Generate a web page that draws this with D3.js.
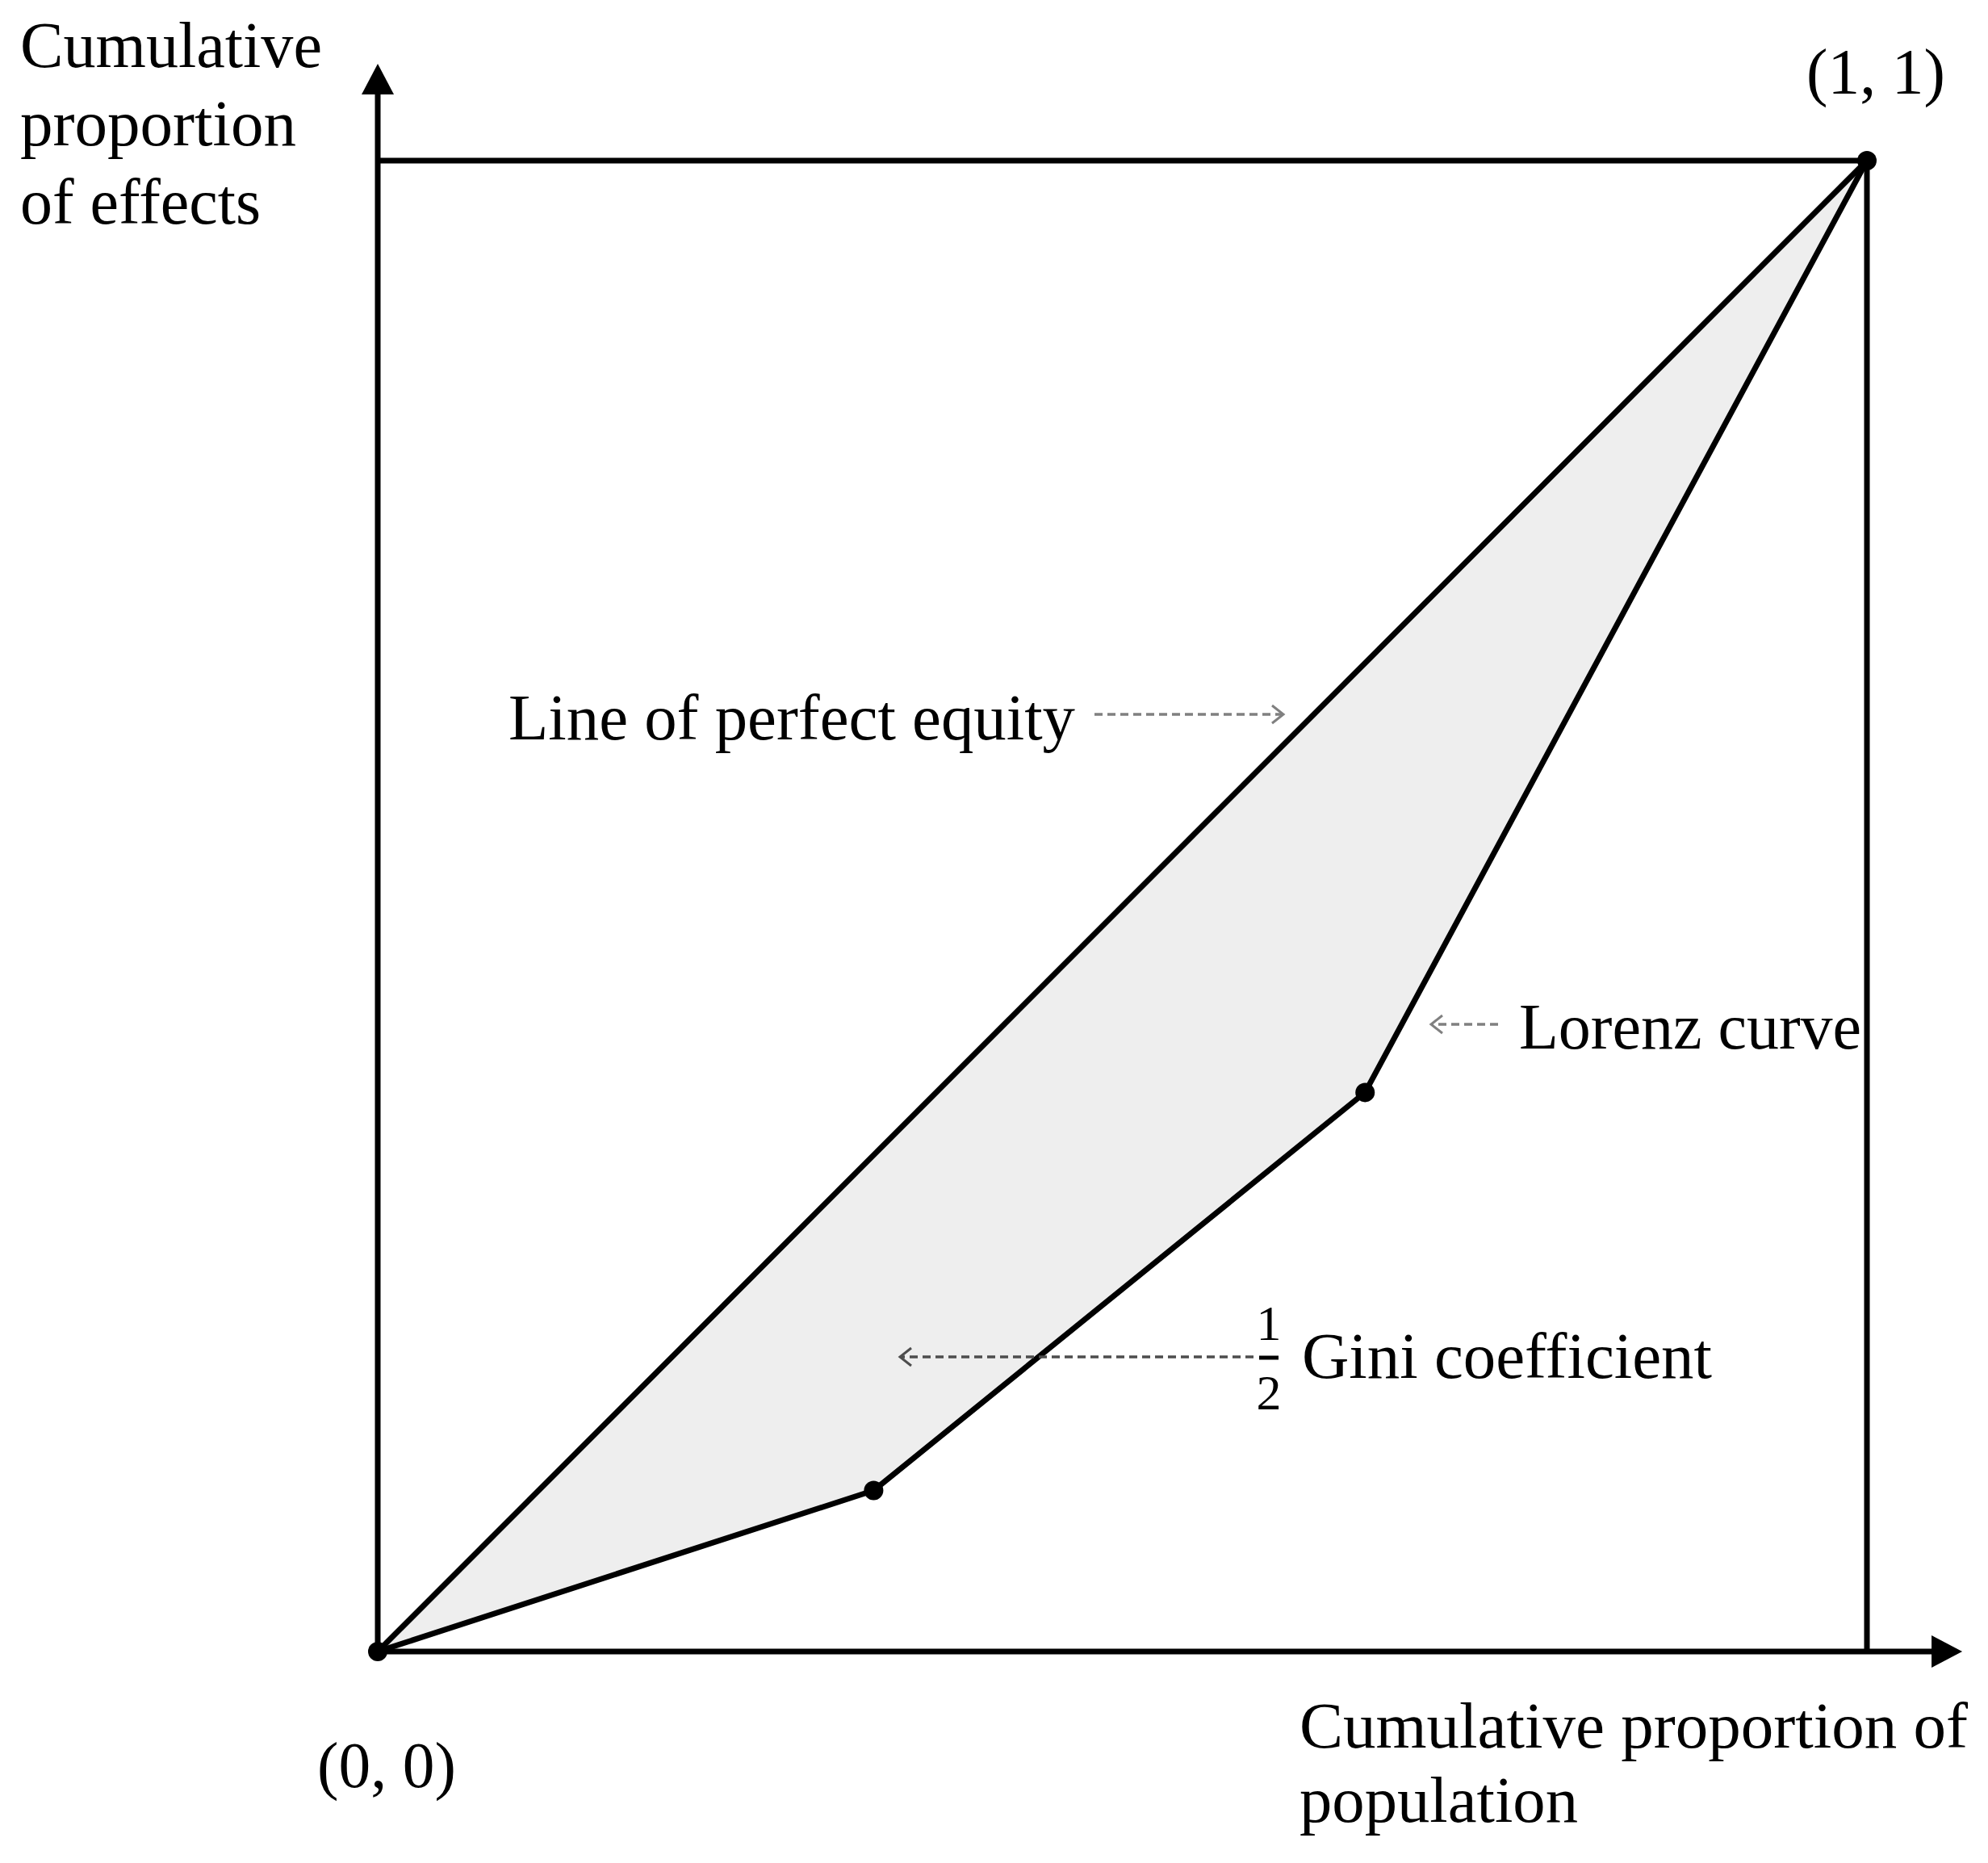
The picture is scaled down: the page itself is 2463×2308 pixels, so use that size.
<!DOCTYPE html>
<html>
<head>
<meta charset="utf-8">
<script src="https://cdn.jsdelivr.net/npm/d3@7"></script>
<style>
html,body{margin:0;padding:0;background:#fff;}
svg{display:block;}
text{font-family:"Liberation Serif","Times New Roman",serif;fill:#000;}
</style>
</head>
<body>
<script>
// ---- data ----
const lorenzX = [0, 0.333, 0.663, 1];
const lorenzY = [0, 0.108, 0.375, 1];
const equityX = [0, 1];
const equityY = [0, 1];
const yLabelLines = ["Cumulative", "proportion", "of effects"];
const xLabelLines = ["Cumulative proportion of", "population"];
const cornerLabels = ["(0, 0)", "(1, 1)"];
const annoEquity = "Line of perfect equity";
const annoLorenz = "Lorenz curve";
const annoGini = "Gini coefficient";

const W = 2463, H = 2308;
const svg = d3.select("body").append("svg").attr("width", W).attr("height", H);

const x = d3.scaleLinear().domain([0, 1]).range([468, 2313]);
const y = d3.scaleLinear().domain([0, 1]).range([2046, 199]);

const lorenz = lorenzX.map((v, i) => [v, lorenzY[i]]);
const equity = equityX.map((v, i) => [v, equityY[i]]);
const line = d3.line().x(d => x(d[0])).y(d => y(d[1]));

// shaded area between equity line and Lorenz curve
const areaPts = equity.slice().concat(lorenz.slice().reverse().slice(1, -1));
svg.append("path")
  .attr("d", line(areaPts) + "Z")
  .attr("fill", "#eeeeee").attr("stroke", "none");

const SW = 7;
// axes
const xMaxAxis = 1.064, yMaxAxis = 1.065;
svg.append("line").attr("x1", x(0)).attr("y1", y(0)).attr("x2", x(xMaxAxis) - 30).attr("y2", y(0))
  .attr("stroke", "#000").attr("stroke-width", SW);
svg.append("line").attr("x1", x(0)).attr("y1", y(0)).attr("x2", x(0)).attr("y2", y(yMaxAxis) + 30)
  .attr("stroke", "#000").attr("stroke-width", SW);
// arrowheads
const ah = 38, aw = 20;
svg.append("path")
  .attr("d", `M${x(xMaxAxis)},${y(0)} L${x(xMaxAxis) - ah},${y(0) - aw} L${x(xMaxAxis) - ah},${y(0) + aw} Z`)
  .attr("fill", "#000");
svg.append("path")
  .attr("d", `M${x(0)},${y(yMaxAxis)} L${x(0) - aw},${y(yMaxAxis) + ah} L${x(0) + aw},${y(yMaxAxis) + ah} Z`)
  .attr("fill", "#000");
// box top and right
svg.append("path").attr("d", line([[0, 1], [1, 1], [1, 0]]))
  .attr("fill", "none").attr("stroke", "#000").attr("stroke-width", SW);

// equity line and Lorenz curve
svg.append("path").attr("d", line(equity)).attr("fill", "none").attr("stroke", "#000").attr("stroke-width", SW);
svg.append("path").attr("d", line(lorenz)).attr("fill", "none").attr("stroke", "#000")
  .attr("stroke-width", SW).attr("stroke-linejoin", "round");

// dots
svg.selectAll("circle.pt").data(lorenz).enter().append("circle")
  .attr("class", "pt").attr("cx", d => x(d[0])).attr("cy", d => y(d[1])).attr("r", 12).attr("fill", "#000");

// text helper
function txt(s, px, py, size, len) {
  const t = svg.append("text").attr("x", px).attr("y", py).attr("font-size", size).text(s);
  if (len) t.attr("textLength", len).attr("lengthAdjust", "spacingAndGlyphs");
  return t;
}

// y label
const yLens = [374, 342, 298];
yLabelLines.forEach((s, i) => txt(s, 25, 83 + i * 97, 80, yLens[i]));
// x label
txt(xLabelLines[0], 1610, 2165, 80, 828);
txt(xLabelLines[1], 1610, 2257, 80, 345);
// corners
txt(cornerLabels[0], 393, 2214, 80, 172);
txt(cornerLabels[1], 2238, 116, 80, 172);

// annotations
txt(annoEquity, 630, 916, 80, 702);
txt(annoLorenz, 1882, 1299, 80, 424);
txt(annoGini, 1613, 1707, 80, 508);
// fraction 1/2
svg.append("text").attr("x", 1572).attr("y", 1660).attr("font-size", 62).attr("text-anchor", "middle").text("1");
svg.append("line").attr("x1", 1560).attr("x2", 1584).attr("y1", 1682).attr("y2", 1682).attr("stroke", "#000").attr("stroke-width", 5);
svg.append("text").attr("x", 1572).attr("y", 1746).attr("font-size", 62).attr("text-anchor", "middle").text("2");

// dashed arrows
function dashArrow(x1, y1, x2, y2, color) {
  svg.append("line").attr("x1", x1).attr("y1", y1).attr("x2", x2).attr("y2", y2)
    .attr("stroke", color).attr("stroke-width", 3.5).attr("stroke-dasharray", "10,6");
  const dir = Math.sign(x2 - x1);
  svg.append("path")
    .attr("d", `M${x2 - dir * 14},${y2 - 11} L${x2},${y2} L${x2 - dir * 14},${y2 + 11}`)
    .attr("fill", "none").attr("stroke", color).attr("stroke-width", 3);
}
dashArrow(1356, 885, 1590, 885, "#808080");
dashArrow(1856, 1269, 1773, 1269, "#808080");
dashArrow(1553, 1681, 1115, 1681, "#4d4d4d");
</script>
</body>
</html>
